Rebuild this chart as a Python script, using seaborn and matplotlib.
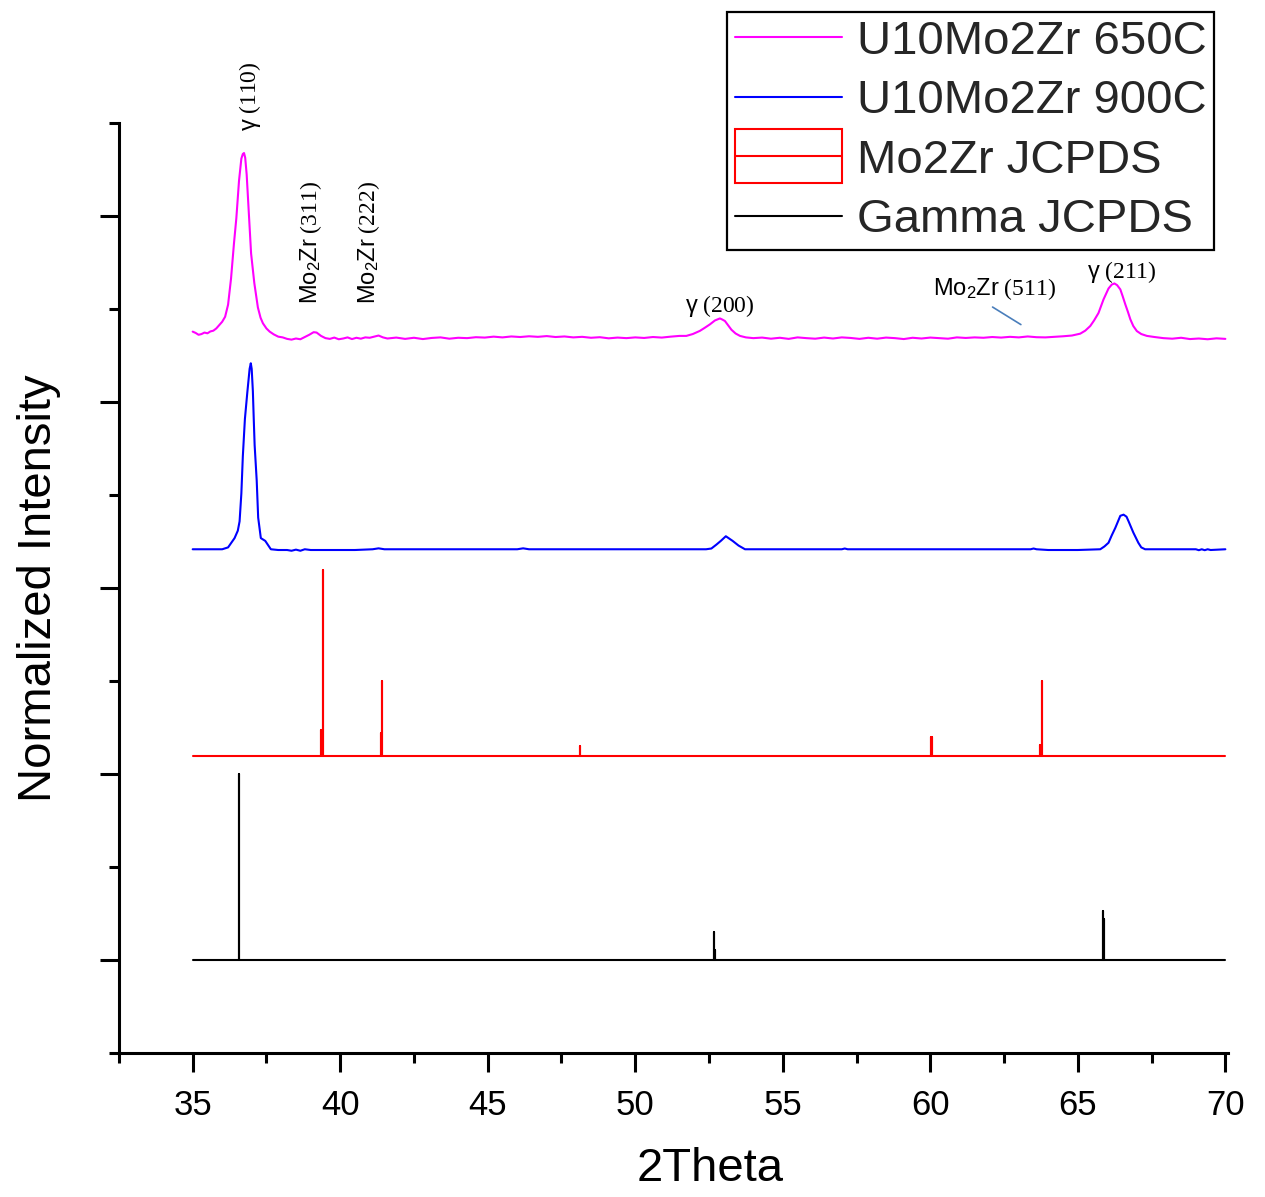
import matplotlib
matplotlib.use("Agg")
import numpy as np
import pandas as pd
import matplotlib.pyplot as plt
import seaborn as sns
from matplotlib.lines import Line2D
from matplotlib.patches import Rectangle
from matplotlib.legend_handler import HandlerTuple, HandlerPatch
from matplotlib.ticker import MultipleLocator, NullFormatter

# ---------------------------------------------------------------- data
# U10Mo2Zr annealed at 650 C (normalized intensity)
t650_x = [35.00, 35.10, 35.20, 35.30, 35.40, 35.50, 35.60, 35.70, 35.80, 35.90,
          36.00, 36.10, 36.20, 36.30, 36.40, 36.48, 36.57, 36.65, 36.70, 36.74,
          36.78, 36.83, 36.90, 36.98, 37.09, 37.21, 37.30, 37.38, 37.50, 37.61,
          37.75, 37.90, 38.05, 38.20, 38.35, 38.50, 38.65, 38.80, 38.95, 39.10,
          39.20, 39.35, 39.50, 39.65, 39.80, 39.95, 40.10, 40.25, 40.40, 40.55,
          40.70, 40.85, 41.00, 41.15, 41.30, 41.45,
          41.6, 41.9, 42.2, 42.5, 42.8, 43.1, 43.4, 43.7, 44.0, 44.3, 44.6, 44.9,
          45.2, 45.5, 45.8, 46.1, 46.4, 46.7, 47.0, 47.3, 47.6, 47.9, 48.2, 48.5,
          48.8, 49.1, 49.4, 49.7, 50.0, 50.3, 50.6, 50.9, 51.2, 51.5,
          51.73, 51.95, 52.19, 52.35, 52.53, 52.70, 52.87, 52.95, 53.04, 53.15,
          53.26, 53.40, 53.55, 53.75, 54.00,
          54.3, 54.6, 54.9, 55.2, 55.5, 55.8, 56.1, 56.4, 56.7, 57.0, 57.3, 57.6,
          57.9, 58.2, 58.5, 58.8, 59.1, 59.4, 59.7, 60.0, 60.3, 60.6, 60.9, 61.2,
          61.5, 61.8, 62.1, 62.4, 62.7, 63.0, 63.3, 63.6, 63.9, 64.2, 64.5,
          64.80, 65.08, 65.25, 65.42, 65.55, 65.70, 65.87, 66.04, 66.15, 66.24,
          66.33, 66.44, 66.52, 66.61, 66.70, 66.78, 66.88, 67.00, 67.15, 67.34,
          67.6, 67.9, 68.2, 68.5, 68.8, 69.1, 69.4, 69.7, 70.0]
t650_y = [0.035, 0.028, 0.018, 0.022, 0.030, 0.026, 0.036, 0.040, 0.052, 0.070,
          0.088, 0.115, 0.180, 0.320, 0.510, 0.645, 0.845, 0.965, 0.990, 0.995,
          0.970, 0.880, 0.685, 0.455, 0.295, 0.165, 0.110, 0.080, 0.052, 0.035,
          0.020, 0.008, 0.004, -0.004, -0.008, -0.002, -0.006, 0.006, 0.018, 0.032,
          0.030, 0.012, 0.000, -0.004, 0.003, -0.006, -0.002, 0.004, -0.005, 0.002,
          -0.003, 0.004, 0.002, 0.008, 0.014, 0.004,
          -0.002, 0.003, -0.004, 0.002, -0.005, 0.001, 0.004, -0.003, 0.002, 0.000, 0.005, 0.003,
          0.008, 0.004, 0.009, 0.006, 0.010, 0.007, 0.011, 0.006, 0.009, 0.004, 0.007, 0.002,
          0.005, -0.001, 0.003, 0.000, 0.004, 0.001, 0.006, 0.003, 0.008, 0.012,
          0.012, 0.022, 0.039, 0.055, 0.074, 0.095, 0.106, 0.100, 0.092, 0.068,
          0.045, 0.025, 0.012, 0.004, 0.000,
          0.003, -0.003, 0.002, -0.004, 0.004, 0.000, -0.003, 0.003, -0.002, 0.004, 0.001, -0.004,
          0.002, -0.003, 0.003, 0.000, -0.005, 0.002, -0.002, 0.003, 0.000, -0.003, 0.004, 0.001,
          0.004, 0.002, 0.006, 0.003, 0.007, 0.004, 0.009, 0.005, 0.004, 0.007, 0.010,
          0.014, 0.024, 0.040, 0.065, 0.095, 0.135, 0.208, 0.267, 0.288, 0.294,
          0.285, 0.262, 0.225, 0.181, 0.140, 0.101, 0.065, 0.038, 0.022, 0.012,
          0.006, 0.000, -0.003, 0.002, -0.005, -0.002, -0.006, -0.001, -0.004]

# U10Mo2Zr annealed at 900 C (normalized intensity)
t900_x = [35.00, 36.00, 36.20, 36.42, 36.53, 36.59, 36.65, 36.70, 36.77, 36.85,
          36.93, 36.97, 37.00, 37.04, 37.07, 37.10, 37.17, 37.22, 37.31, 37.46,
          37.65, 37.90, 38.20, 38.35, 38.50, 38.65, 38.80, 39.00, 40.50, 41.10,
          41.30, 41.50, 43.00, 46.00, 46.20, 46.40, 52.00, 52.40, 52.58, 52.75,
          52.90, 53.07, 53.30, 53.50, 53.72, 55.00, 57.00, 57.10, 57.20, 63.40,
          63.50, 63.60, 64.00, 65.00, 65.76, 65.90, 66.04, 66.15, 66.27, 66.44,
          66.55, 66.65, 66.72, 66.88, 67.05, 67.15, 67.28, 69.00, 69.10, 69.20,
          69.30, 69.40, 69.50, 70.00]
t900_y = [0.000, 0.000, 0.010, 0.060, 0.100, 0.150, 0.300, 0.500, 0.700, 0.840,
          0.970, 1.000, 0.970, 0.850, 0.700, 0.560, 0.370, 0.170, 0.060, 0.045,
          0.000, -0.004, -0.004, -0.008, -0.002, -0.008, 0.000, -0.004, -0.004, 0.000,
          0.005, 0.000, 0.000, 0.000, 0.005, 0.000, 0.000, 0.000, 0.004, 0.025,
          0.045, 0.070, 0.045, 0.020, 0.000, 0.000, 0.000, 0.004, 0.000, 0.000,
          0.004, 0.000, -0.004, -0.004, 0.000, 0.015, 0.035, 0.075, 0.115, 0.180,
          0.186, 0.175, 0.150, 0.090, 0.035, 0.010, 0.000, 0.000, -0.005, 0.000,
          -0.005, 0.000, -0.004, 0.000]

# Mo2Zr reference pattern (JCPDS line positions and relative intensities)
mo2zr_pos = [39.36, 39.41, 41.37, 41.43, 48.12, 60.03, 60.07, 63.72, 63.77]
mo2zr_int = [0.14, 1.00, 0.12, 0.40, 0.05, 0.10, 0.10, 0.06, 0.40]

# gamma-U reference pattern (JCPDS line positions and relative intensities)
gamma_pos = [36.56, 52.67, 52.70, 65.84, 65.88]
gamma_int = [1.00, 0.15, 0.055, 0.265, 0.22]

series_names = ["U10Mo2Zr 650C", "U10Mo2Zr 900C", "Mo2Zr JCPDS", "Gamma JCPDS"]
series_colors = ["#FF00FF", "#0000FF", "#FF0000", "#000000"]
# vertical stacking of the patterns
series_offsets = [3.345, 2.21, 1.10, 0.0]
two_theta_range = [35.0, 70.0]


def stick_trace(pos, inten, lo, hi):
    """Turn a list of reference lines into a drawable stick pattern."""
    xs, ys = [lo], [0.0]
    for p, h in sorted(zip(pos, inten)):
        xs += [p, p, p]
        ys += [0.0, h, 0.0]
    xs.append(hi)
    ys.append(0.0)
    return xs, ys


traces = [
    (t650_x, t650_y),
    (t900_x, t900_y),
    stick_trace(mo2zr_pos, mo2zr_int, *two_theta_range),
    stick_trace(gamma_pos, gamma_int, *two_theta_range),
]
frames = []
for name, off, (xs, ys) in zip(series_names, series_offsets, traces):
    frames.append(pd.DataFrame({
        "two_theta": xs,
        "intensity": np.asarray(ys) + off,
        "series": name,
    }))
df = pd.concat(frames, ignore_index=True)

# ---------------------------------------------------------------- style
sns.set_theme(style="ticks")
plt.rcParams["font.family"] = ["Liberation Sans", "DejaVu Sans"]
plt.rcParams["mathtext.fontset"] = "custom"
plt.rcParams["mathtext.rm"] = "Liberation Serif"
plt.rcParams["mathtext.sf"] = "Liberation Sans"
plt.rcParams["mathtext.it"] = "Liberation Serif:italic"

fig = plt.figure(figsize=(12.65, 11.97), dpi=100)
ax = fig.add_axes([0.094, 0.120, 0.877, 0.777])

sns.lineplot(data=df, x="two_theta", y="intensity", hue="series",
             hue_order=series_names, palette=series_colors, units="series",
             estimator=None, sort=False, linewidth=1.5, legend=False, ax=ax)

ax.set_xlim(32.5, 70.1)
ax.set_ylim(-0.5, 4.5)
sns.despine(ax=ax)
for s in ("left", "bottom"):
    ax.spines[s].set_linewidth(2.2)
    ax.spines[s].set_color("black")

ax.xaxis.set_major_locator(MultipleLocator(5))
ax.xaxis.set_minor_locator(MultipleLocator(2.5))
ax.yaxis.set_major_locator(MultipleLocator(1))
ax.yaxis.set_minor_locator(MultipleLocator(0.5))
ax.yaxis.set_major_formatter(NullFormatter())
ax.tick_params(which="major", direction="out", length=14, width=2.2,
               color="black", labelsize=25, pad=12, labelcolor="black")
ax.tick_params(which="minor", direction="out", length=7, width=2.2, color="black")
ax.set_xticks(np.arange(35, 71, 5))

ax.set_xlabel("2Theta", fontsize=34, color="black")
ax.xaxis.set_label_coords(0.533, -0.101)
ax.set_ylabel("Normalized Intensity", fontsize=34, labelpad=16, color="black")

# ---------------------------------------------------------------- peak labels
lab_kw = dict(fontsize=17, color="black", clip_on=False)
ax.text(36.93, 4.46, r"$\mathsf{γ}\ \mathrm{(110)}$", rotation=90,
        ha="center", va="bottom", **lab_kw)
ax.text(39.00, 3.53, r"$\mathsf{Mo_2Zr}\ \mathrm{(311)}$", rotation=90,
        ha="center", va="bottom", **lab_kw)
ax.text(40.97, 3.53, r"$\mathsf{Mo_2Zr}\ \mathrm{(222)}$", rotation=90,
        ha="center", va="bottom", **lab_kw)
ax.text(52.87, 3.52, r"$\mathsf{γ}\ \mathrm{(200)}$", ha="center", va="center", **lab_kw)
ax.text(62.16, 3.61, r"$\mathsf{Mo_2Zr}\ \mathrm{(511)}$", ha="center", va="center", **lab_kw)
ax.text(66.50, 3.70, r"$\mathsf{γ}\ \mathrm{(211)}$", ha="center", va="center", **lab_kw)
ax.annotate("", xy=(63.15, 3.41), xytext=(62.03, 3.52),
            arrowprops=dict(arrowstyle="-", color="#4a7ebb", lw=1.2))


# ---------------------------------------------------------------- legend
def tall_box(legend, orig_handle, xdescent, ydescent, width, height, fontsize):
    # column-style key: an open box taller than the text row
    extra = 0.32 * height
    return Rectangle((-xdescent, -ydescent - extra), width, height + 2 * extra)


handles = [
    Line2D([], [], color=series_colors[0], lw=1.5),
    Line2D([], [], color=series_colors[1], lw=1.5),
    (Rectangle((0, 0), 1, 1, facecolor="none", edgecolor=series_colors[2], lw=1.5),
     Line2D([], [], color=series_colors[2], lw=1.5)),
    Line2D([], [], color=series_colors[3], lw=1.5),
]
leg = fig.legend(handles, series_names, loc="upper right",
                 bbox_to_anchor=(0.960, 0.9900), fontsize=34, frameon=True,
                 fancybox=False, framealpha=1, edgecolor="black",
                 handlelength=2.27, handletextpad=0.32,
                 labelspacing=0.33, borderpad=0.16, borderaxespad=0,
                 handler_map={tuple: HandlerTuple(ndivide=1),
                              Rectangle: HandlerPatch(patch_func=tall_box)})
leg.get_frame().set_linewidth(1.6)

fig.savefig("out.png", dpi=100, facecolor="white")
